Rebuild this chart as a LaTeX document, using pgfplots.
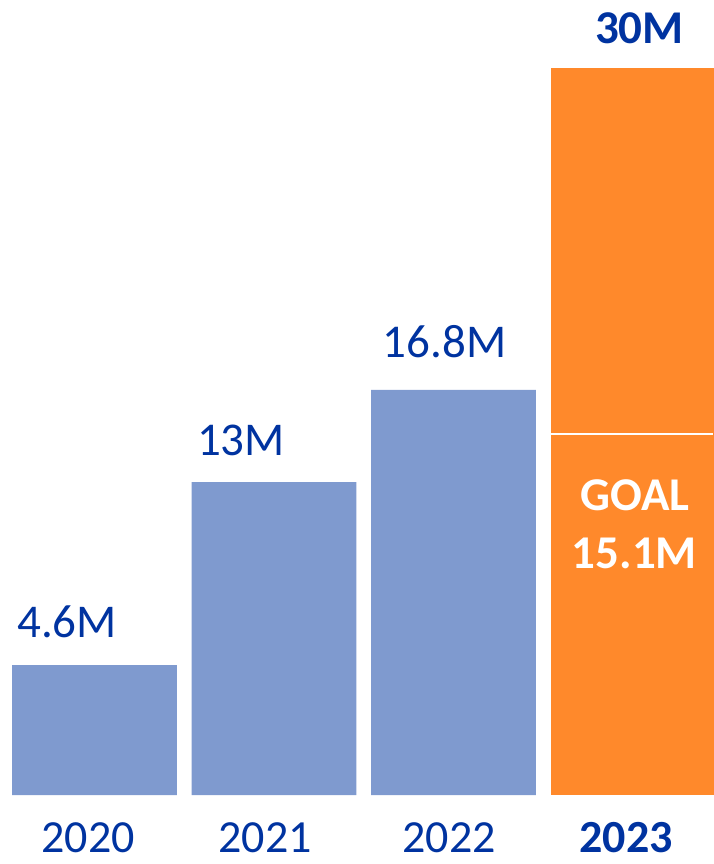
\documentclass[border=0pt]{standalone}
\usepackage{pgfplots}
\pgfplotsset{compat=1.18}
\usepackage{fontspec}
\setmainfont{Carlito}
\definecolor{barblue}{RGB}{127,154,207}
\definecolor{barorange}{RGB}{255,137,43}
\definecolor{txtblue}{RGB}{0,51,160}
\begin{document}
\begin{tikzpicture}[x=1pt,y=1pt]
\begin{axis}[
  at={(0,0)}, anchor=south west,
  scale only axis, width=713pt, height=795pt,
  xmin=-0.52646, xmax=3.44568,
  ymin=0, ymax=32.919,
  axis lines=none, ticks=none,
  clip=false,
  bar width=0.919,
  ybar, bar shift=0pt,
]
\addplot[fill=barblue, draw=none] coordinates {(0,5.38) (1,12.96) (2,16.77)};
\addplot[fill=barorange, draw=none] coordinates {(3,30.1)};
\addplot[ybar=false, sharp plot, draw=white, line width=2.5pt, forget plot] coordinates {(2.5403,14.95) (3.4457,14.95)};
\node[font=\fontsize{47}{56}\selectfont, text=txtblue] at (axis cs:-0.153,7.16) {4.6M};
\node[font=\fontsize{47}{56}\selectfont, text=txtblue] at (axis cs:0.816,14.70) {13M};
\node[font=\fontsize{47}{56}\selectfont, text=txtblue] at (axis cs:1.950,18.76) {16.8M};
\node[font=\fontsize{47}{56}\selectfont\bfseries, text=txtblue] at (axis cs:3.036,31.76) {30M};
\node[font=\fontsize{47}{56}\selectfont\bfseries, text=white] at (axis cs:3.01,12.42) {GOAL};
\node[font=\fontsize{47}{56}\selectfont\bfseries, text=white] at (axis cs:3.008,10.02) {15.1M};
\node[inner sep=0pt, font=\fontsize{46}{55}\selectfont, text=txtblue] at (axis cs:-0.036,-1.78) {2020};
\node[inner sep=0pt, font=\fontsize{46}{55}\selectfont, text=txtblue] at (axis cs:0.95,-1.78) {2021};
\node[inner sep=0pt, font=\fontsize{46}{55}\selectfont, text=txtblue] at (axis cs:1.975,-1.78) {2022};
\node[inner sep=0pt, font=\fontsize{46}{55}\selectfont\bfseries, text=txtblue] at (axis cs:2.961,-1.78) {2023};
\end{axis}
\pgfresetboundingbox
\useasboundingbox (0,-69) rectangle (713,795);
\end{tikzpicture}
\end{document}
